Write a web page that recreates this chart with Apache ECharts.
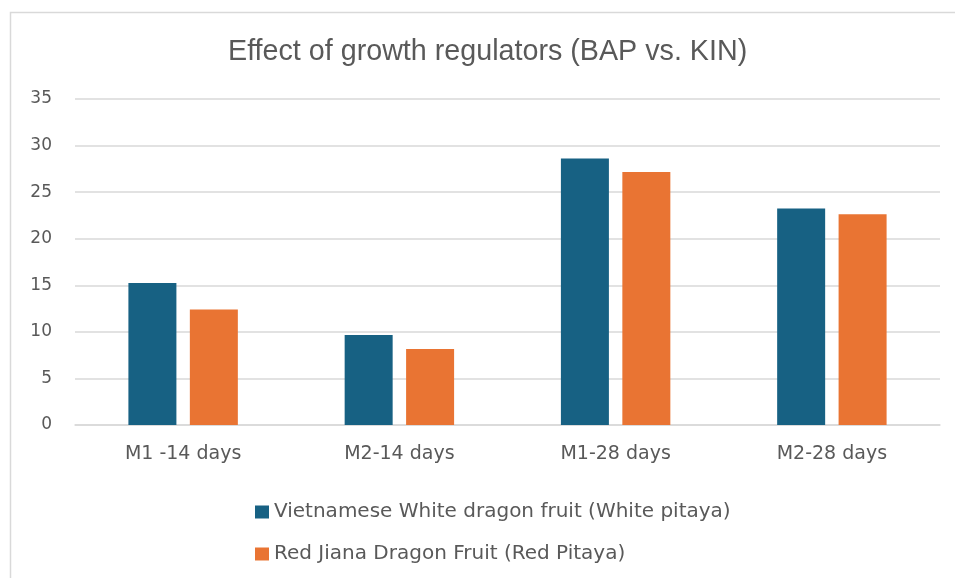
<!DOCTYPE html>
<html>
<head>
<meta charset="utf-8">
<script src="https://cdn.jsdelivr.net/npm/echarts@6/dist/echarts.min.js"></script>
<style>
  html, body { margin: 0; padding: 0; background: #fff; }
  #chart { width: 955px; height: 578px; }
</style>
</head>
<body>
<div id="chart"></div>
<script>
// data
var categories = ['M1 -14 days', 'M2-14 days', 'M1-28 days', 'M2-28 days'];
var whitePitaya = [15.25, 9.66, 28.62, 23.25];
var redPitaya = [12.39, 8.15, 27.15, 22.63];
var seriesNames = [
  'Vietnamese White dragon fruit (White pitaya)',
  'Red Jiana Dragon Fruit (Red Pitaya)'
];

var textColor = '#595959';
var lineColor = '#d9d9d9';
var titleFont = '"Liberation Sans", Arial, sans-serif';
var font = '"DejaVu Sans", sans-serif';

var myChart = echarts.init(document.getElementById('chart'));

var option = {
  animation: false,
  backgroundColor: '#fff',
  color: ['#176183', '#e97433'],
  title: {
    text: 'Effect of growth regulators (BAP vs. KIN)',
    left: 223,
    top: 33,
    textStyle: { fontFamily: titleFont, fontSize: 28.7, fontWeight: 'normal', color: textColor }
  },
  // outer chart border
  graphic: [{
    type: 'rect',
    shape: { x: 10.5, y: 12.5, width: 960, height: 600 },
    style: { fill: 'none', stroke: lineColor, lineWidth: 1.5 }
  }],
  grid: { left: 75, right: 15, top: 99, bottom: 153 },
  legend: {
    orient: 'vertical',
    left: 250,
    top: 497,
    itemWidth: 14,
    itemHeight: 13,
    itemGap: 22,
    icon: 'rect',
    textStyle: { fontFamily: font, fontSize: 20, color: textColor },
    data: seriesNames
  },
  xAxis: {
    type: 'category',
    data: categories,
    axisLine: { lineStyle: { color: lineColor, width: 1.5 } },
    axisTick: { show: false },
    axisLabel: { fontFamily: font, fontSize: 19, color: textColor, margin: 20 }
  },
  yAxis: {
    type: 'value',
    min: 0,
    max: 35,
    interval: 5,
    axisLine: { show: false },
    axisTick: { show: false },
    splitLine: { lineStyle: { color: lineColor, width: 1.5 } },
    axisLabel: { fontFamily: font, fontSize: 17, color: textColor, margin: 23 }
  },
  series: [
    {
      name: seriesNames[0],
      type: 'bar',
      data: whitePitaya,
      barWidth: 48,
      barGap: '28%'
    },
    {
      name: seriesNames[1],
      type: 'bar',
      data: redPitaya,
      barWidth: 48,
      barGap: '28%'
    }
  ]
};

myChart.setOption(option);
</script>
</body>
</html>
